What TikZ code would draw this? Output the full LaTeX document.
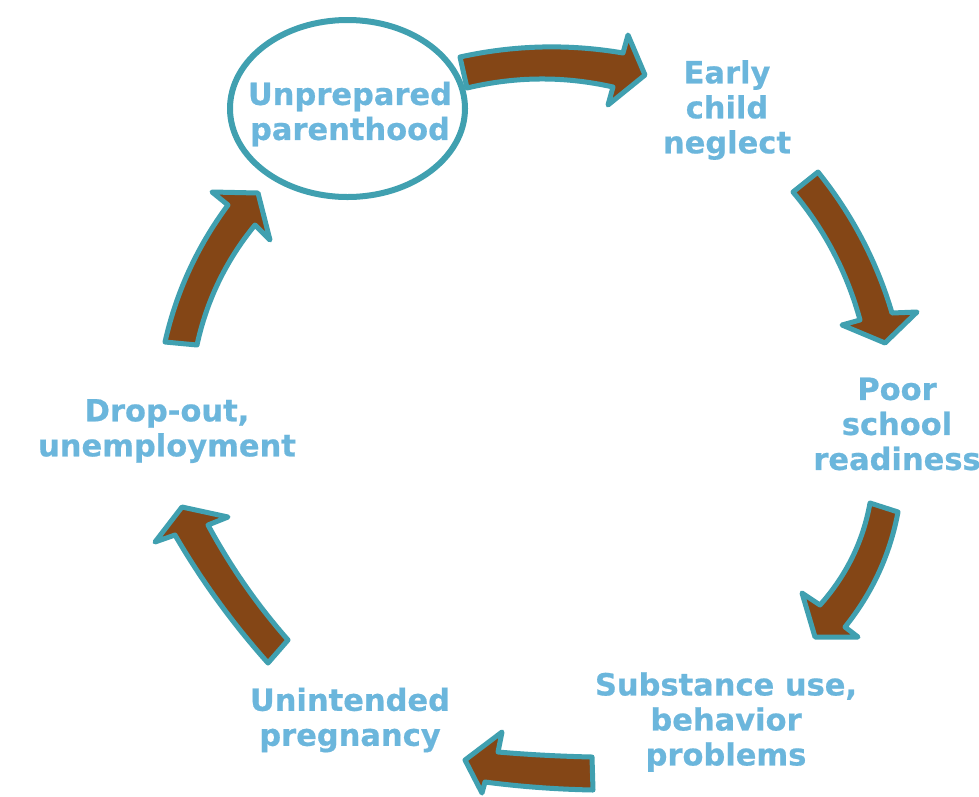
\documentclass[tikz,border=0pt]{standalone}
\usepackage{fontspec}
\setmainfont{DejaVu Sans}[BoldFeatures={FakeBold=0.6}]
\usetikzlibrary{shapes.geometric}
\definecolor{txtblue}{RGB}{107,182,220}
\definecolor{brownfill}{RGB}{132,70,22}
\definecolor{tealline}{RGB}{64,160,176}
\begin{document}
\begin{tikzpicture}[x=1pt,y=-1pt,
  lbl/.style={text=txtblue, font=\bfseries\fontsize{30.5}{35}\selectfont, align=center, inner sep=0pt},
  cyc/.style={fill=brownfill, draw=tealline, line width=5pt, line join=round},
  ring/.style={draw=tealline, line width=6pt, ellipse, inner sep=0pt}]
\useasboundingbox[fill=white] (0,0) rectangle (979,796);
% ellipse
\node[ring, minimum width=235pt, minimum height=177pt] (ell) at (347.5,108.5) {};
% labels
\node[lbl] (up) at (350,114) {Unprepared\\parenthood};
\node[lbl] (ecn) at (727,110) {Early\\child\\neglect};
\node[lbl] (psr) at (897,424) {Poor\\school\\readiness};
\node[lbl] (sub) at (726,722) {Substance use,\\behavior\\problems};
\node[lbl] (uip) at (350,720) {Unintended\\pregnancy};
\node[lbl] (dro) at (167,431) {Drop-out,\\unemployment};
% arrows
\draw[cyc] (460,57) .. controls (514.3,45) and (568.7,43.7) .. (623,53) -- (628,35) -- (645,75) -- (608,105) -- (613,87) .. controls (564.3,76) and (515.7,76.3) .. (467,88) -- cycle;
\draw[cyc] (818,172) .. controls (852,214.3) and (876.7,261.3) .. (892,313) -- (917,312) -- (885,343) -- (842,325) -- (860,320) .. controls (847,272.4) and (824.7,229.7) .. (793,192) -- cycle;
\draw[cyc] (898,512) .. controls (890,554.7) and (872.3,593) .. (845,627) -- (858,637) -- (815,637) -- (802,593) -- (820,605) .. controls (846.4,575.4) and (863.1,541.4) .. (870,503) -- cycle;
\draw[cyc] (593,790) .. controls (557,789.3) and (521,786.7) .. (485,782) -- (482,793) -- (465,760) -- (502,732) -- (498,752) .. controls (529.3,754.7) and (560.7,756.3) .. (592,757) -- cycle;
\draw[cyc] (268,663) .. controls (232.7,623.5) and (201.7,580.9) .. (175,535) -- (155,542) -- (182,507) -- (228,517) -- (208,525) .. controls (230.4,566.5) and (257.1,604.9) .. (288,640) -- cycle;
\draw[cyc] (165,342) .. controls (176.3,291.9) and (197.3,246.3) .. (228,205) -- (212,192) -- (258,193) -- (270,240) -- (255,225) .. controls (225.9,260.6) and (206.6,300.6) .. (197,345) -- cycle;
\end{tikzpicture}
\end{document}
